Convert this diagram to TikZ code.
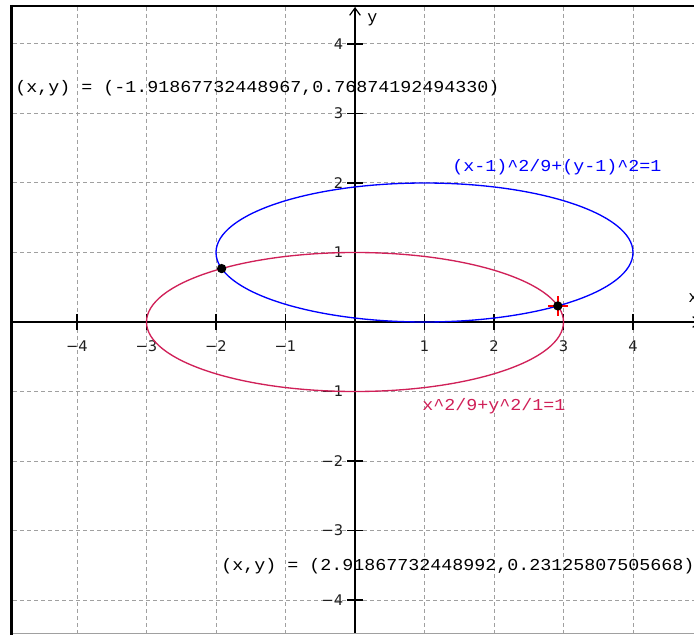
\documentclass[tikz,border=0pt]{standalone}
\usepackage{fontspec}
\newfontfamily\monof{Liberation Mono}
\newfontfamily\sansf{DejaVu Sans}
\usetikzlibrary{arrows.meta}
\definecolor{crim}{RGB}{208,32,88}
\definecolor{gridc}{RGB}{160,160,160}
\definecolor{lblc}{RGB}{30,30,30}
\tikzset{
  gridline/.style={gridc, line width=0.75pt, dash pattern=on 3pt off 2.25pt},
  axisline/.style={black, line width=1.1pt},
  tickline/.style={black, line width=1.1pt},
  ticklbl/.style={text=lblc, font=\sansf\fontsize{11}{13}\selectfont, inner sep=0pt},
  monotxt/.style={font=\monof\fontsize{12.5}{14}\selectfont, inner sep=0pt, anchor=west, xscale=1.1},
  curve/.style={line width=1pt},
  ptdot/.style={circle, fill=black, inner sep=0pt, minimum size=7pt},
}
\begin{document}
\begin{tikzpicture}[x=0.75pt,y=-0.75pt]
\useasboundingbox (0,0) rectangle (694,635);
\clip (0,0) rectangle (694,635);
\fill[white] (0,0) rectangle (694,635);
% grid
\foreach \k in {-4,...,4}{
  \draw[gridline] ({355+69.5*\k},7) -- ({355+69.5*\k},633);
  \draw[gridline] (13,{322-69.5*\k}) -- (694,{322-69.5*\k});
}
% axes
\coordinate (xl) at (13,322);
\coordinate (xr) at (701,322);
\coordinate (yb) at (355,633);
\coordinate (yt) at (355,7);
\draw[axisline, -{Straight Barb[length=5.5pt,width=8pt,line width=0.9pt]}] (xl) -- (xr);
\draw[axisline, -{Straight Barb[length=5.5pt,width=8pt,line width=0.9pt]}] (yb) -- (yt);
\node[font=\monof\fontsize{12.5}{14}\selectfont, inner sep=0pt, anchor=west] (ylab) at (367,20) {y};
\node[font=\monof\fontsize{12.5}{14}\selectfont, inner sep=0pt, anchor=west] (xlab) at (688,298) {x};
% ticks and labels
\foreach \k/\t in {-4/−4,-3/−3,-2/−2,-1/−1,1/1,2/2,3/3,4/4}{
  \draw[tickline] ({355+69.5*\k},314) -- ({355+69.5*\k},330);
  \node[ticklbl] (xt\k) at ({355+69.5*\k},346) {\t};
  \draw[tickline] (347,{322-69.5*\k}) -- (363,{322-69.5*\k});
  \node[ticklbl, anchor=east] (yt\k) at (343.5,{322-69.5*\k}) {\t};
}
% curves
\begin{scope}[shift={(355,322)}, x=52.125pt, y=52.125pt]
  \draw[curve, blue] (1,1) ellipse [x radius=3, y radius=1];
  \draw[curve, crim] (0,0) ellipse [x radius=3, y radius=1];
  \coordinate (p1) at (-1.91867732448967,0.76874192494330);
  \coordinate (p2) at (2.91867732448992,0.23125807505668);
\end{scope}
\draw[red, line width=1.6pt] ([xshift=-7.5pt]p2) -- ([xshift=7.5pt]p2);
\draw[red, line width=1.6pt] ([yshift=-7.5pt]p2) -- ([yshift=7.5pt]p2);
\node[ptdot] (d1) at (p1) {};
\node[ptdot] (d2) at (p2) {};
% texts
\node[monotxt] (t1) at (15,88) {(x,y) = (-1.91867732448967,0.76874192494330)};
\node[monotxt, text=blue] (t2) at (452,167) {(x-1)\textasciicircum 2/9+(y-1)\textasciicircum 2=1};
\node[monotxt, text=crim] (t3) at (422,406) {x\textasciicircum 2/9+y\textasciicircum 2/1=1};
\node[monotxt] (t4) at (221,566) {(x,y) = (2.91867732448992,0.23125807505668)};
% frame
\draw[black, line width=1.6pt] (10,6) -- (694,6);
\draw[gridc, line width=0.9pt] (11,633.5) -- (694,633.5);
\draw[black, line width=2.4pt] (11.5,5) -- (11.5,635);
\end{tikzpicture}
\end{document}
